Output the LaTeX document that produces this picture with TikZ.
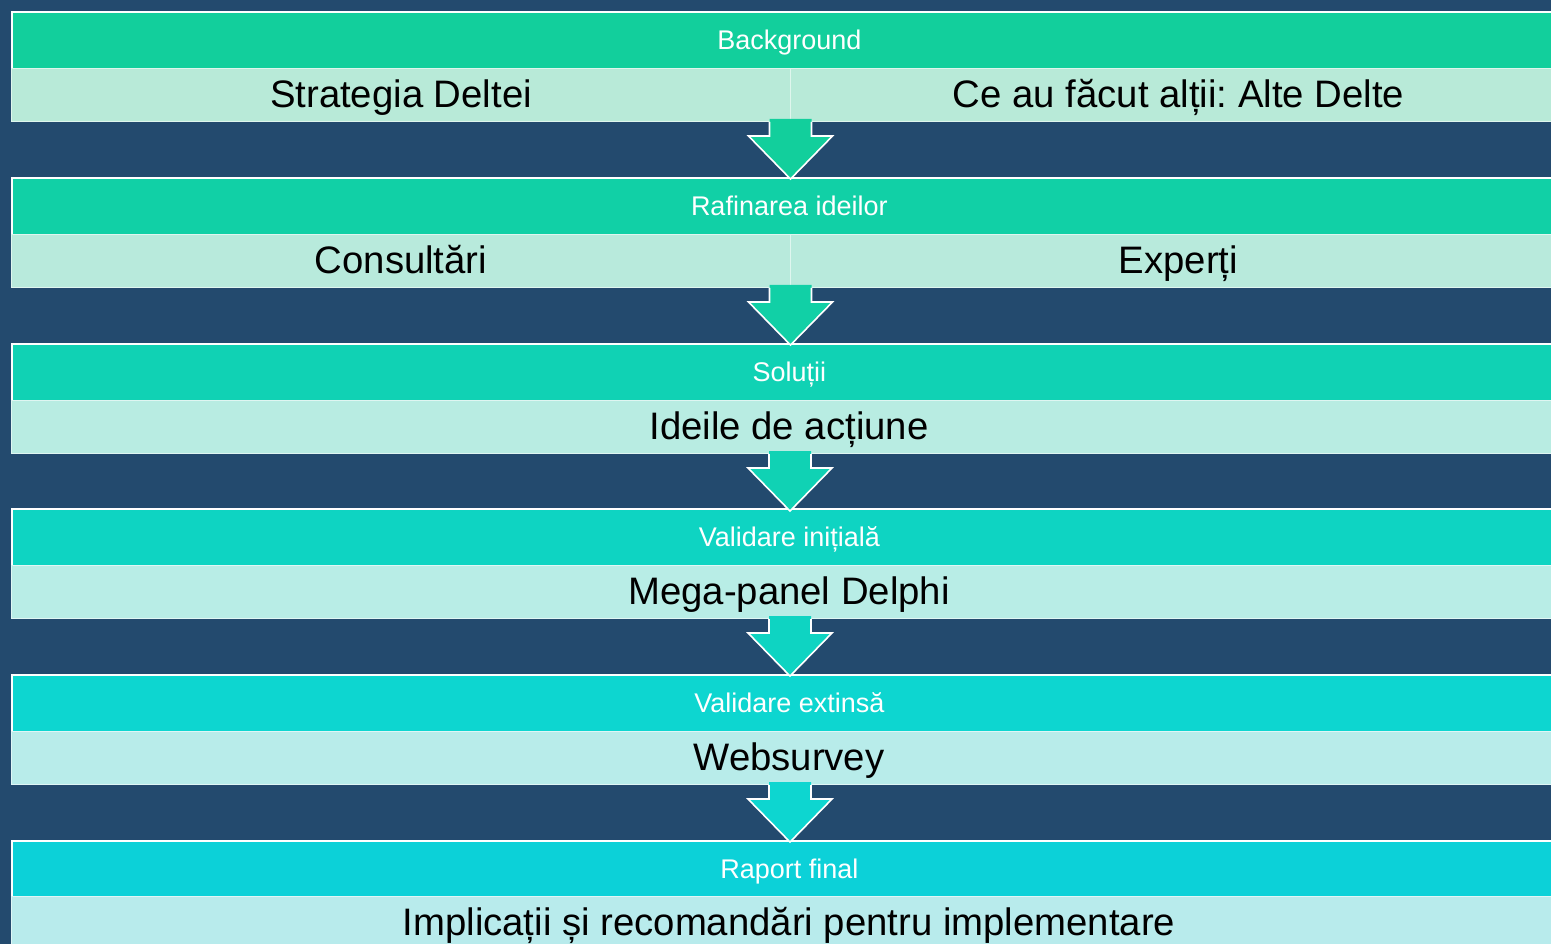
\documentclass[tikz,border=0pt]{standalone}
\usepackage{fontspec}
\setmainfont{Liberation Sans}
\frenchspacing
\definecolor{bgc}{HTML}{234A6E}
\definecolor{hA}{HTML}{12CF9C}
\definecolor{hB}{HTML}{11D0A6}
\definecolor{hC}{HTML}{10D2B4}
\definecolor{hD}{HTML}{0ED4C2}
\definecolor{hE}{HTML}{0DD6D0}
\definecolor{hF}{HTML}{0CD1D8}
\definecolor{lA}{HTML}{B8EAD8}
\definecolor{lB}{HTML}{B8EADC}
\definecolor{lC}{HTML}{B8ECE2}
\definecolor{lD}{HTML}{B8EDE6}
\definecolor{lE}{HTML}{B8ECEA}
\definecolor{lF}{HTML}{B8EBEC}
\tikzset{
  hdr/.style={draw=white, line width=1.6pt, minimum width=1555pt, minimum height=57pt,
    inner sep=0pt, text height=21pt, text depth=3pt, anchor=north west, text=white,
    font=\fontsize{27}{30}\selectfont},
  lowfull/.style={draw=white!55!#1, fill=#1, line width=1pt, minimum width=1555pt, minimum height=53pt,
    inner sep=0pt, text height=30pt, text depth=5pt, anchor=north west, text=black,
    font=\fontsize{38.3}{42}\selectfont},
  lowleft/.style={lowfull=#1, minimum width=779pt},
  lowright/.style={lowfull=#1, minimum width=776pt},
  downarrow/.pic={
    \fill[pic actions] (-21,-3) -- (-21,14) -- (-42,14) -- (0,57) -- (42,14) -- (21,14) -- (21,-3) -- cycle;
    \draw[white, line width=1.6pt, line join=miter] (-21,0) -- (-21,14) -- (-42,14) -- (0,57) -- (42,14) -- (21,14) -- (21,0);
  }
}
\begin{document}
\begin{tikzpicture}[x=1pt,y=-1pt]
\fill[bgc] (0,0) rectangle (1551,944);
\useasboundingbox (0,0) rectangle (1551,944);
% block 1
\node[hdr, fill=hA] (h1) at (11,11) {Background};
\node[lowleft=lA] (l1a) at (11,68) {Strategia Deltei};
\node[lowright=lA] (l1b) at (790,68) {Ce au făcut alții: Alte Delte};
% block 2
\node[hdr, fill=hB] (h2) at (11,177) {Rafinarea ideilor};
\node[lowleft=lB] (l2a) at (11,234) {Consultări};
\node[lowright=lB] (l2b) at (790,234) {Experți};
% block 3
\node[hdr, fill=hC] (h3) at (11,343) {Soluții};
\node[lowfull=lC] (l3) at (11,400) {Ideile de acțiune};
% block 4
\node[hdr, fill=hD] (h4) at (11,508) {Validare inițială};
\node[lowfull=lD] (l4) at (11,565) {Mega-panel Delphi};
% block 5
\node[hdr, fill=hE] (h5) at (11,674) {Validare extinsă};
\node[lowfull=lE] (l5) at (11,731) {Websurvey};
% block 6
\node[hdr, fill=hF] (h6) at (11,840) {Raport final};
\node[lowfull=lF] (l6) at (11,896) {Implicații și recomandări pentru implementare};
% arrows
\pic[fill=hA] at ([xshift=-0.5pt]l1a.south east) {downarrow};
\pic[fill=hB] at ([xshift=-0.5pt]l2a.south east) {downarrow};
\pic[fill=hC] at ([xshift=1pt]l3.south) {downarrow};
\pic[fill=hD] at ([xshift=1pt]l4.south) {downarrow};
\pic[fill=hE] at ([xshift=1pt]l5.south) {downarrow};
\end{tikzpicture}
\end{document}
